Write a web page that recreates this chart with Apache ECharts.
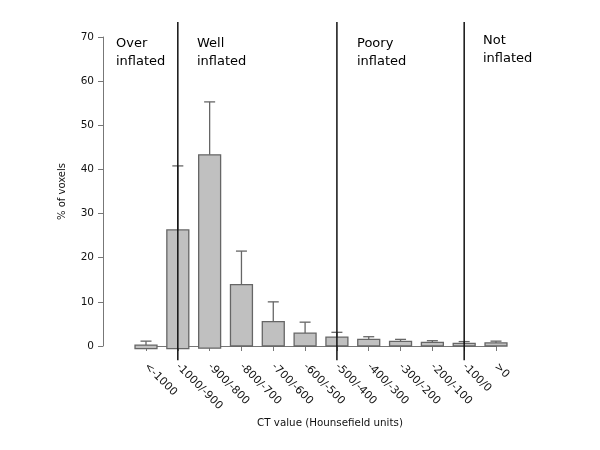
<!DOCTYPE html>
<html>
<head>
<meta charset="utf-8">
<script src="https://cdn.jsdelivr.net/npm/echarts@6/dist/echarts.min.js"></script>
<style>html,body{margin:0;padding:0;background:#fff}#c{width:600px;height:450px}</style>
</head>
<body>
<div id="c"></div>
<script>
const categories = ['<-1000','-1000/-900','-900/-800','-800/-700','-700/-600','-600/-500','-500/-400','-400/-300','-300/-200','-200/-100','-100/0','>0'];
const barLow = [-0.6, -0.6, -0.5, 0, 0, 0, 0, 0, 0, 0, 0, 0];
const barHigh = [0.2, 26.3, 43.3, 13.9, 5.5, 2.9, 2.0, 1.5, 1.06, 0.84, 0.6, 0.7];
const errorTop = [1.1, 40.8, 55.3, 21.5, 10.0, 5.4, 3.1, 2.1, 1.5, 1.2, 1.0, 1.1];
const dividerCategories = ['-1000/-900', '-500/-400', '-100/0'];
const regionLabels = ['Over\ninflated', 'Well\ninflated', 'Poory\ninflated', 'Not\ninflated'];

const FONT = 'DejaVu Sans';
const chart = echarts.init(document.getElementById('c'));

const barData = categories.map((c, i) => [i, barLow[i], barHigh[i], errorTop[i]]);
const dividerData = dividerCategories.map(c => [categories.indexOf(c)]);
const labelFont = '13px "' + FONT + '"';

chart.setOption({
  animation: false,
  grid: { left: 146, right: 104, top: 37, bottom: 104 },
  xAxis: {
    type: 'category',
    data: categories,
    boundaryGap: false,
    offset: 12,
    axisLine: { lineStyle: { color: '#777', width: 1 } },
    axisTick: { length: 5, lineStyle: { color: '#777' } },
    axisLabel: { rotate: -45, margin: 7, fontFamily: FONT, fontSize: 11, color: '#111' },
    name: 'CT value (Hounsefield units)',
    nameLocation: 'middle',
    nameGap: 52,
    nameTextStyle: { fontFamily: FONT, fontSize: 10.3, color: '#111', padding: [0, 0, 0, 18] },
    splitLine: { show: false }
  },
  yAxis: {
    type: 'value',
    min: 0, max: 70, interval: 10,
    offset: 43,
    axisLine: { show: true, lineStyle: { color: '#777', width: 1 } },
    axisTick: { show: true, length: 5, lineStyle: { color: '#777' } },
    axisLabel: { margin: 9, fontFamily: FONT, fontSize: 10.5, color: '#111' },
    splitLine: { show: false },
    name: '% of voxels',
    nameLocation: 'middle',
    nameGap: 36,
    nameTextStyle: { fontFamily: FONT, fontSize: 10, color: '#111' }
  },
  graphic: [
    { type: 'text', left: 116, top: 35, style: { text: regionLabels[0], font: labelFont, fill: '#000', lineHeight: 18 } },
    { type: 'text', left: 197, top: 35, style: { text: regionLabels[1], font: labelFont, fill: '#000', lineHeight: 18 } },
    { type: 'text', left: 357, top: 35, style: { text: regionLabels[2], font: labelFont, fill: '#000', lineHeight: 18 } },
    { type: 'text', left: 483, top: 32, style: { text: regionLabels[3], font: labelFont, fill: '#000', lineHeight: 18 } }
  ],
  series: [
    {
      type: 'custom',
      data: barData,
      encode: { x: 0, y: [1, 2, 3] },
      renderItem: function (params, api) {
        const idx = api.value(0);
        const pLow = api.coord([idx, api.value(1)]);
        const pHigh = api.coord([idx, api.value(2)]);
        const pErr = api.coord([idx, api.value(3)]);
        const band = api.size([1, 0])[0];
        const w = band * 0.69;
        const cap = 11;
        const cx = pLow[0];
        return {
          type: 'group',
          children: [
            { type: 'line', shape: { x1: cx, y1: pHigh[1], x2: cx, y2: pErr[1] }, style: { stroke: '#666', lineWidth: 1.3 } },
            { type: 'line', shape: { x1: cx - cap / 2, y1: pErr[1], x2: cx + cap / 2, y2: pErr[1] }, style: { stroke: '#666', lineWidth: 1.3 } },
            { type: 'rect', shape: { x: cx - w / 2, y: pHigh[1], width: w, height: pLow[1] - pHigh[1] }, style: { fill: '#c0c0c0', stroke: '#666', lineWidth: 1.3 } }
          ]
        };
      }
    },
    {
      type: 'custom',
      data: dividerData,
      encode: { x: 0 },
      renderItem: function (params, api) {
        const idx = api.value(0);
        const pTop = api.coord([idx, 73.4]);
        const pBot = api.coord([idx, -3.2]);
        return { type: 'line', shape: { x1: pTop[0], y1: pTop[1], x2: pBot[0], y2: pBot[1] }, style: { stroke: '#111', lineWidth: 1.5 } };
      }
    }
  ]
});
</script>
</body>
</html>
